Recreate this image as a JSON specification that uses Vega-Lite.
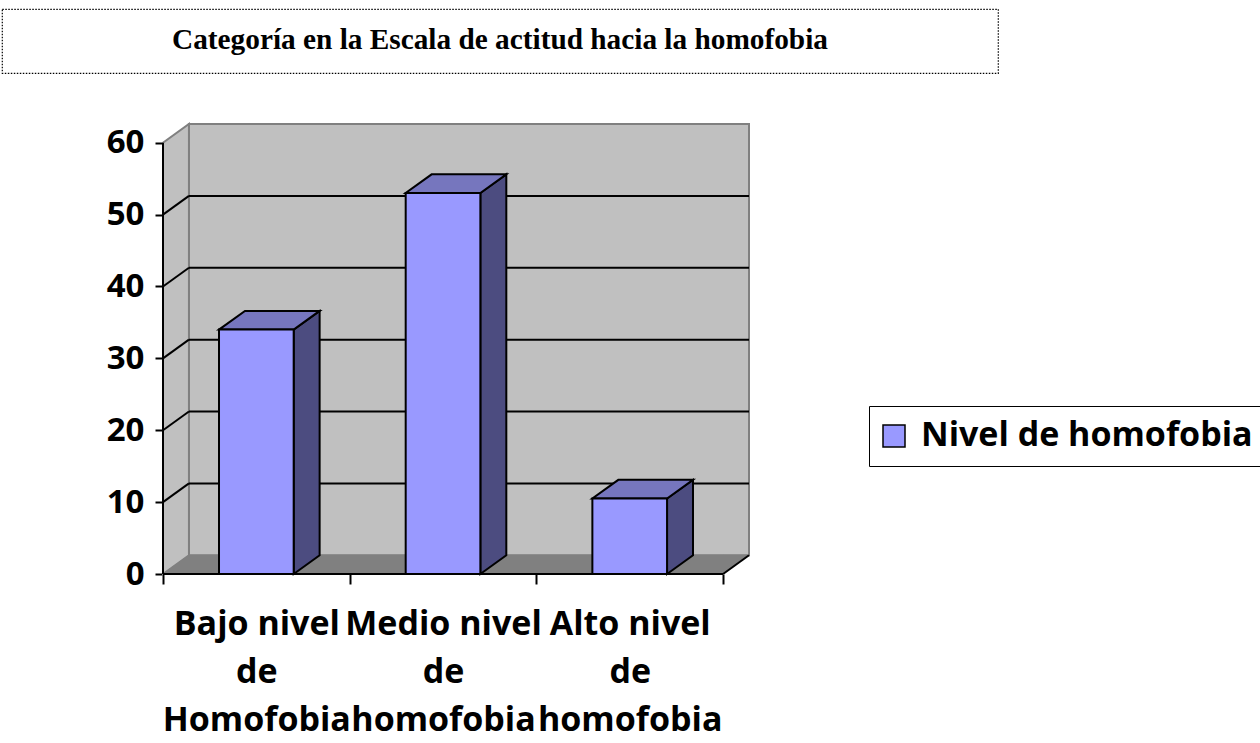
{
  "$schema": "https://vega.github.io/schema/vega-lite/v6.json",
  "background": "white",
  "padding": {"left": 1, "top": 8, "right": 0, "bottom": 0},
  "spacing": 46,
  "config": {"view": {"stroke": null}, "font": "Open Sans"},
  "datasets": {
    "barras": [
      {"categoria": "Bajo nivel de Homofobia", "orden": 0, "valor": 34},
      {"categoria": "Medio nivel de homofobia", "orden": 1, "valor": 53},
      {"categoria": "Alto nivel de homofobia", "orden": 2, "valor": 10.5}
    ],
    "niveles": [{"v": 10}, {"v": 20}, {"v": 30}, {"v": 40}, {"v": 50}]
  },
  "vconcat": [
    {
      "width": 996,
      "height": 64,
      "view": {"stroke": "black", "strokeDash": [1.5, 1.5], "strokeWidth": 1.2, "fill": "white"},
      "data": {"values": [{"titulo": "Categoría en la Escala de actitud hacia la homofobia"}]},
      "mark": {"type": "text", "font": "Liberation Serif", "fontWeight": "bold", "fontSize": 29.3, "color": "black", "align": "center", "baseline": "middle", "dy": -1},
      "encoding": {"text": {"field": "titulo"}}
    },
    {
      "spacing": 0,
      "hconcat": [
        {
          "width": 1,
          "height": 450,
          "view": {"stroke": null},
          "data": {"values": []},
          "mark": "point"
        },
        {
          "width": 586,
          "height": 450,
          "view": {"stroke": null},
          "layer": [
            {
              "data": {"values": [{}]},
              "mark": {"type": "rect", "fill": "#C0C0C0", "stroke": "#808080", "strokeWidth": 2},
              "encoding": {
                "x": {"datum": 0.139, "type": "quantitative", "scale": {"domain": [0, 3.139], "nice": false, "zero": false},
                  "axis": {"title": null, "values": [0, 0.5, 1, 1.5, 2, 2.5, 3], "domain": false, "grid": false,
                    "tickSize": 10, "tickWidth": 2, "tickColor": "black",
                    "tickOpacity": {"condition": {"test": "datum.value % 1 != 0", "value": 0}, "value": 1},
                    "labelExpr": "datum.value == 0.5 ? ['Bajo nivel', 'de', 'Homofobia'] : datum.value == 1.5 ? ['Medio nivel', 'de', 'homofobia'] : datum.value == 2.5 ? ['Alto nivel', 'de', 'homofobia'] : ''",
                    "labelFont": "Open Sans", "labelFontWeight": "bold", "labelFontSize": 34, "labelColor": "black",
                    "labelLineHeight": 48, "labelPadding": 23, "labelOverlap": false, "labelFlush": false, "labelBound": false,
                    "labelAlign": "center", "labelLimit": 0}},
                "x2": {"datum": 3.139},
                "y": {"datum": 2.6, "type": "quantitative", "scale": {"domain": [0, 62.6], "nice": false, "zero": false},
                  "axis": {"title": null, "values": [0, 10, 20, 30, 40, 50, 60], "domain": false, "grid": false,
                    "tickSize": 8, "tickWidth": 2, "tickColor": "black",
                    "labelFont": "Open Sans", "labelFontWeight": "bold", "labelFontSize": 33, "labelColor": "black",
                    "labelPadding": 11, "minExtent": 160, "maxExtent": 160}},
                "y2": {"datum": 62.6}
              }
            },
            {
              "data": {"values": [{}]},
              "transform": [
                {"calculate": "[0, 0.139]", "as": "px"},
                {"calculate": "[0, 2.6]", "as": "lo"},
                {"calculate": "[60, 62.6]", "as": "hi"},
                {"flatten": ["px", "lo", "hi"]}
              ],
              "mark": {"type": "area", "fill": "#C0C0C0", "stroke": "#808080", "strokeWidth": 2},
              "encoding": {
                "x": {"field": "px", "type": "quantitative", "scale": {"domain": [0, 3.139], "nice": false, "zero": false}, "title": null},
                "y": {"field": "lo", "type": "quantitative", "scale": {"domain": [0, 62.6], "nice": false, "zero": false}, "title": null},
                "y2": {"field": "hi"}
              }
            },
            {
              "data": {"values": [{}]},
              "transform": [
                {"calculate": "[0, 0.139, 3, 3.139]", "as": "px"},
                {"calculate": "[0, 0, 0, 2.6]", "as": "lo"},
                {"calculate": "[0, 2.6, 2.6, 2.6]", "as": "hi"},
                {"flatten": ["px", "lo", "hi"]}
              ],
              "mark": {"type": "area", "fill": "#808080", "stroke": "#808080", "strokeWidth": 1},
              "encoding": {
                "x": {"field": "px", "type": "quantitative", "scale": {"domain": [0, 3.139], "nice": false, "zero": false}, "title": null},
                "y": {"field": "lo", "type": "quantitative", "scale": {"domain": [0, 62.6], "nice": false, "zero": false}, "title": null},
                "y2": {"field": "hi"}
              }
            },
            {
              "data": {"name": "niveles"},
              "transform": [{"calculate": "datum.v + 2.6", "as": "vb"}],
              "mark": {"type": "rule", "color": "black", "strokeWidth": 2},
              "encoding": {
                "x": {"datum": 0.139, "type": "quantitative", "scale": {"domain": [0, 3.139], "nice": false, "zero": false}},
                "x2": {"datum": 3.139},
                "y": {"field": "vb", "type": "quantitative", "scale": {"domain": [0, 62.6], "nice": false, "zero": false}, "title": null}
              }
            },
            {
              "data": {"name": "niveles"},
              "transform": [{"calculate": "datum.v + 2.6", "as": "vb"}],
              "mark": {"type": "rule", "color": "black", "strokeWidth": 2},
              "encoding": {
                "x": {"datum": 0, "type": "quantitative", "scale": {"domain": [0, 3.139], "nice": false, "zero": false}},
                "x2": {"datum": 0.139},
                "y": {"field": "v", "type": "quantitative", "scale": {"domain": [0, 62.6], "nice": false, "zero": false}, "title": null},
                "y2": {"field": "vb"}
              }
            },
            {
              "data": {"name": "barras"},
              "transform": [
                {"calculate": "[datum.orden + 0.7, datum.orden + 0.839]", "as": "px"},
                {"calculate": "[0, 2.6]", "as": "lo"},
                {"calculate": "[datum.valor, datum.valor + 2.6]", "as": "hi"},
                {"flatten": ["px", "lo", "hi"]}
              ],
              "mark": {"type": "area", "fill": "#4C4C80", "stroke": "black", "strokeWidth": 2, "strokeJoin": "miter"},
              "encoding": {
                "x": {"field": "px", "type": "quantitative", "scale": {"domain": [0, 3.139], "nice": false, "zero": false}, "title": null},
                "y": {"field": "lo", "type": "quantitative", "scale": {"domain": [0, 62.6], "nice": false, "zero": false}, "title": null},
                "y2": {"field": "hi"},
                "detail": {"field": "categoria"}
              }
            },
            {
              "data": {"name": "barras"},
              "transform": [
                {"calculate": "[datum.orden + 0.3, datum.orden + 0.439, datum.orden + 0.7, datum.orden + 0.839]", "as": "px"},
                {"calculate": "[datum.valor, datum.valor, datum.valor, datum.valor + 2.6]", "as": "lo"},
                {"calculate": "[datum.valor, datum.valor + 2.6, datum.valor + 2.6, datum.valor + 2.6]", "as": "hi"},
                {"flatten": ["px", "lo", "hi"]}
              ],
              "mark": {"type": "area", "fill": "#7676BE", "stroke": "black", "strokeWidth": 2, "strokeJoin": "miter"},
              "encoding": {
                "x": {"field": "px", "type": "quantitative", "scale": {"domain": [0, 3.139], "nice": false, "zero": false}, "title": null},
                "y": {"field": "lo", "type": "quantitative", "scale": {"domain": [0, 62.6], "nice": false, "zero": false}, "title": null},
                "y2": {"field": "hi"},
                "detail": {"field": "categoria"}
              }
            },
            {
              "data": {"name": "barras"},
              "transform": [
                {"calculate": "datum.orden + 0.3", "as": "x0"},
                {"calculate": "datum.orden + 0.7", "as": "x1"}
              ],
              "mark": {"type": "rect", "stroke": "black", "strokeWidth": 2},
              "encoding": {
                "x": {"field": "x0", "type": "quantitative", "scale": {"domain": [0, 3.139], "nice": false, "zero": false}, "title": null},
                "x2": {"field": "x1"},
                "y": {"field": "valor", "type": "quantitative", "scale": {"domain": [0, 62.6], "nice": false, "zero": false}, "title": null},
                "y2": {"datum": 0},
                "color": {"datum": "Nivel de homofobia", "type": "nominal", "scale": {"range": ["#9999FF"]},
                  "legend": {"orient": "none", "legendX": 867, "legendY": 397, "title": null,
                    "strokeColor": "black", "fillColor": "white", "padding": 13,
                    "symbolType": "square", "symbolSize": 484, "symbolStrokeColor": "black", "symbolStrokeWidth": 1.5,
                    "symbolOpacity": 1, "symbolOffset": -5, "labelOffset": 10,
                    "labelFont": "Open Sans", "labelFontWeight": "bold", "labelFontSize": 34, "labelColor": "black", "labelLimit": 0}}
              }
            },
            {
              "data": {"values": [{}]},
              "mark": {"type": "rule", "color": "black", "strokeWidth": 2},
              "encoding": {
                "x": {"datum": 0, "type": "quantitative", "scale": {"domain": [0, 3.139], "nice": false, "zero": false}},
                "y": {"datum": 0, "type": "quantitative", "scale": {"domain": [0, 62.6], "nice": false, "zero": false}},
                "y2": {"datum": 60}
              }
            },
            {
              "data": {"values": [{}]},
              "mark": {"type": "rule", "color": "black", "strokeWidth": 2},
              "encoding": {
                "x": {"datum": 0, "type": "quantitative", "scale": {"domain": [0, 3.139], "nice": false, "zero": false}},
                "x2": {"datum": 3},
                "y": {"datum": 0, "type": "quantitative", "scale": {"domain": [0, 62.6], "nice": false, "zero": false}}
              }
            },
            {
              "data": {"values": [{}]},
              "mark": {"type": "rule", "color": "black", "strokeWidth": 2},
              "encoding": {
                "x": {"datum": 3, "type": "quantitative", "scale": {"domain": [0, 3.139], "nice": false, "zero": false}},
                "x2": {"datum": 3.139},
                "y": {"datum": 0, "type": "quantitative", "scale": {"domain": [0, 62.6], "nice": false, "zero": false}},
                "y2": {"datum": 2.6}
              }
            }
          ]
        }
      ]
    }
  ]
}
